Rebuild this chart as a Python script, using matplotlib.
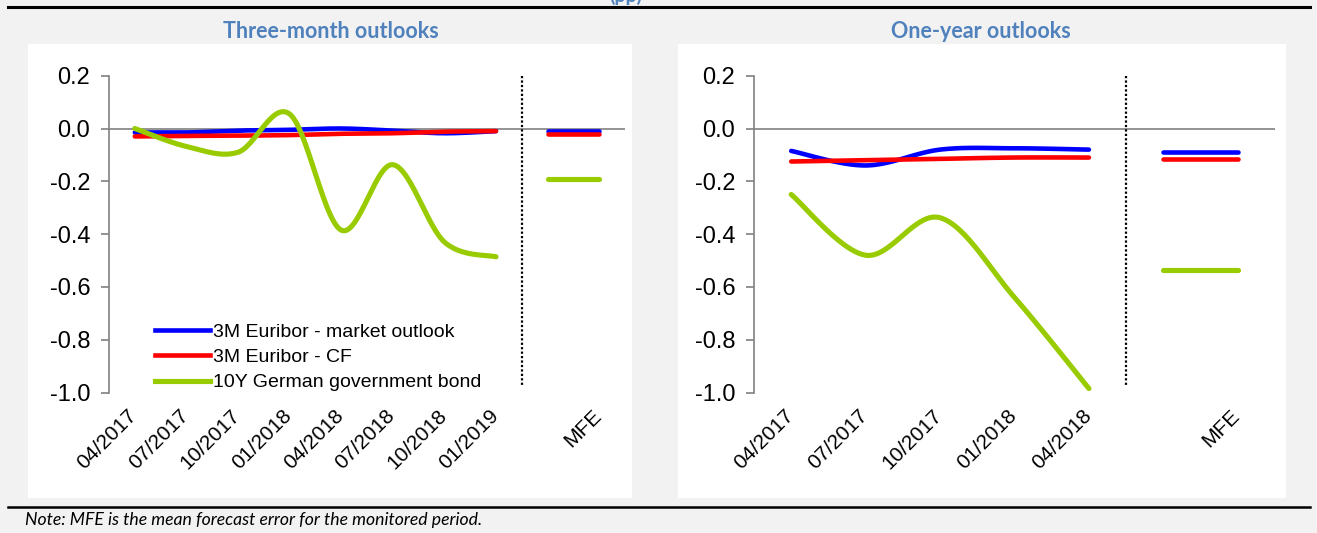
import numpy as np
import matplotlib.pyplot as plt
from matplotlib.patches import Rectangle
from matplotlib.lines import Line2D
from matplotlib.transforms import ScaledTranslation

# data (pp)
dates_3m = ['04/2017', '07/2017', '10/2017', '01/2018', '04/2018', '07/2018', '10/2018', '01/2019']
mkt_3m = [-0.015, -0.015, -0.008, -0.005, 0.0, -0.008, -0.018, -0.01]
cf_3m = [-0.03, -0.028, -0.027, -0.025, -0.02, -0.018, -0.012, -0.01]
bund_3m = [0.0, -0.068, -0.09, 0.055, -0.385, -0.137, -0.43, -0.486]
mfe_3m = {'mkt': -0.008, 'cf': -0.019, 'bund': -0.19}

dates_1y = ['04/2017', '07/2017', '10/2017', '01/2018', '04/2018']
mkt_1y = [-0.085, -0.14, -0.08, -0.075, -0.08]
cf_1y = [-0.125, -0.12, -0.115, -0.11, -0.11]
bund_1y = [-0.25, -0.48, -0.338, -0.64, -0.985]
mfe_1y = {'mkt': -0.09, 'cf': -0.115, 'bund': -0.535}

names = ['3M Euribor - market outlook', '3M Euribor - CF', '10Y German government bond']
colors = {'mkt': '#0000ff', 'cf': '#ff0000', 'bund': '#99cc00'}
widths = {'mkt': 3.3, 'cf': 3.3, 'bund': 3.7}

W, H = 1317, 533
plt.rcParams['font.family'] = ['Liberation Sans', 'DejaVu Sans']


def fx(px):
    return px / W


def fy(py):
    return 1 - py / H


def smooth(y):
    # excel-like smoothed line (catmull-rom as cubic bezier)
    x = np.arange(len(y), dtype=float)
    y = np.asarray(y, dtype=float)
    p = np.column_stack([x, y])
    pts = [p[0]] + list(p) + [p[-1]]
    t = np.linspace(0, 1, 30)[:, None]
    out = []
    for i in range(1, len(pts) - 2):
        p0, p1, p2, p3 = pts[i - 1], pts[i], pts[i + 1], pts[i + 2]
        c1 = p1 + (p2 - p0) / 6
        c2 = p2 - (p3 - p1) / 6
        seg = ((1 - t) ** 3) * p1 + 3 * ((1 - t) ** 2) * t * c1 + 3 * (1 - t) * t ** 2 * c2 + t ** 3 * p2
        out.append(seg)
    out = np.vstack(out)
    return out[:, 0], out[:, 1]


fig = plt.figure(figsize=(W / 100, H / 100), dpi=100)
fig.patch.set_facecolor('#f2f2f2')

# white panels
for x0, x1 in [(28, 632), (678, 1286)]:
    fig.patches.append(Rectangle((fx(x0), fy(498)), fx(x1 - x0), (498 - 44) / H,
                                 transform=fig.transFigure, facecolor='white', edgecolor='none', zorder=-5))
# black rules
for yy, lw in [(7, 2.2), (507, 1.8)]:
    fig.add_artist(Line2D([fx(8), fx(1310)], [fy(yy), fy(yy)], transform=fig.transFigure, color='black', lw=lw))

fig.text(fx(626), fy(5), '(pp)', ha='center', va='bottom', color='#4f81bd', fontsize=14,
         fontweight='bold', family=['Lato', 'DejaVu Sans'])
fig.text(fx(331), fy(31), 'Three-month outlooks', ha='center', va='center', color='#4f81bd',
         fontsize=15.5, fontweight='bold', family=['Lato', 'DejaVu Sans'])
fig.text(fx(981), fy(31), 'One-year outlooks', ha='center', va='center', color='#4f81bd',
         fontsize=15.5, fontweight='bold', family=['Lato', 'DejaVu Sans'])
fig.text(fx(25), fy(520), 'Note: MFE is the mean forecast error for the monitored period.', ha='left',
         va='center', fontsize=12.7, style='italic', family=['Lato', 'DejaVu Sans'])

shift = ScaledTranslation(6 / 100, -2 / 100, fig.dpi_scale_trans)


def panel(rect, dates, series, mfe, legend=False):
    ax = fig.add_axes(rect)
    ax.set_facecolor('none')
    n = len(dates)
    ax.set_xlim(-0.5, n + 1.5)
    ax.set_ylim(-1.0, 0.2)
    ax.axhline(0, color='#808080', lw=1.2, zorder=1)
    for key in ['mkt', 'cf', 'bund']:
        xs, ys = smooth(series[key])
        ax.plot(xs, ys, color=colors[key], lw=widths[key], solid_capstyle='round', zorder=3)
        ax.plot([n, n + 1], [mfe[key], mfe[key]], color=colors[key], lw=widths[key],
                solid_capstyle='round', zorder=3)
    ax.plot([n - 0.5, n - 0.5], [0.2, -0.98], color='black', lw=1.6, linestyle=(0, (1, 1)), zorder=2)
    for s in ['top', 'right', 'bottom']:
        ax.spines[s].set_visible(False)
    ax.spines['left'].set_color('#808080')
    ax.spines['left'].set_linewidth(1.2)
    yt = [0.2, 0.0, -0.2, -0.4, -0.6, -0.8, -1.0]
    ax.set_yticks(yt)
    ax.set_yticklabels(['%.1f' % v if v != 0 else '0.0' for v in yt], fontsize=17)
    ax.tick_params(axis='y', direction='out', length=6, width=1.2, color='#808080', pad=7.5)
    ax.set_xticks(list(range(n)) + [n + 1])
    ax.set_xticklabels(dates + ['MFE'], rotation=45, ha='right', va='top', fontsize=15)
    ax.tick_params(axis='x', length=0, pad=8)
    for lab in ax.get_xticklabels():
        lab.set_transform(lab.get_transform() + shift)
    if legend:
        handles = [Line2D([], [], color=colors[k], lw=widths[k]) for k in ['mkt', 'cf', 'bund']]
        fig.legend(handles, names, loc='upper left', bbox_to_anchor=(fx(155), fy(323)),
                   frameon=False, fontsize=14, handlelength=2.85, handletextpad=0.15,
                   labelspacing=0.4, borderpad=0, borderaxespad=0)
    return ax


panel([fx(109), fy(392.5), fx(625 - 109), (392.5 - 75.7) / H], dates_3m,
      {'mkt': mkt_3m, 'cf': cf_3m, 'bund': bund_3m}, mfe_3m, legend=True)
panel([fx(754), fy(392.5), fx(1275 - 754), (392.5 - 75.7) / H], dates_1y,
      {'mkt': mkt_1y, 'cf': cf_1y, 'bund': bund_1y}, mfe_1y)

plt.savefig('out.png', dpi=100, facecolor=fig.get_facecolor())
